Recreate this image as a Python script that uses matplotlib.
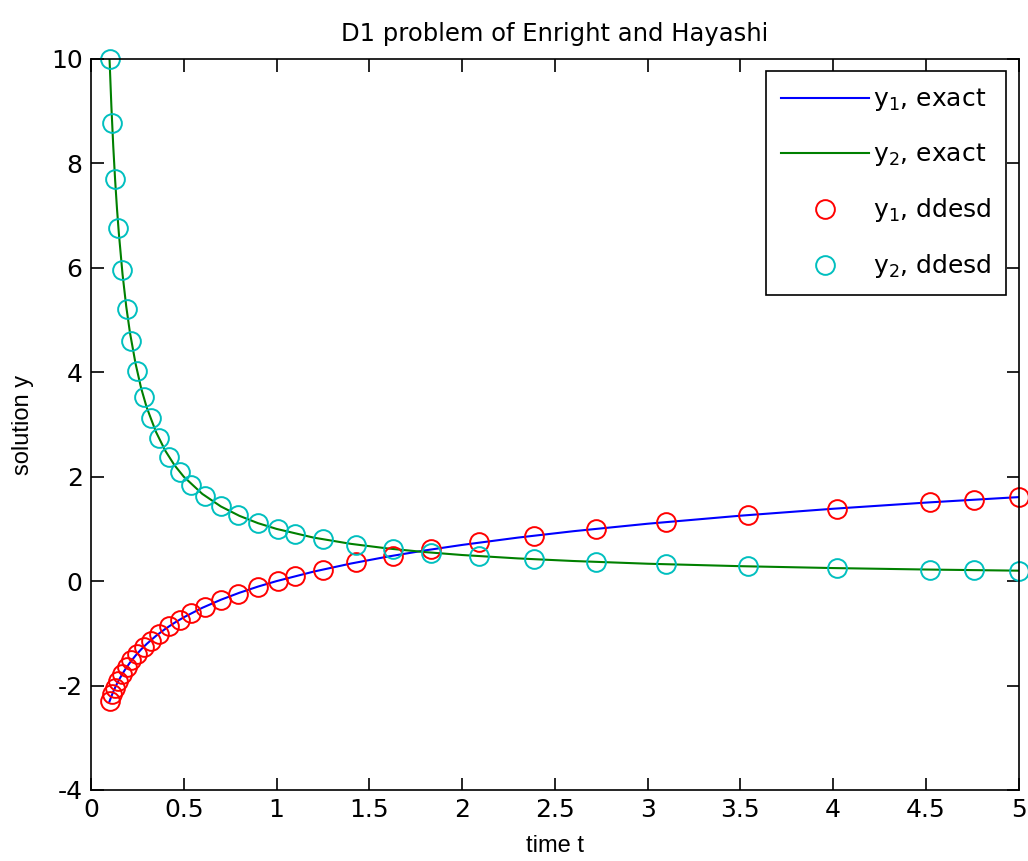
import matplotlib
matplotlib.use("Agg")
import matplotlib.pyplot as plt
from matplotlib import font_manager

plt.rcParams['font.family'] = ['DejaVu Sans']
plt.rcParams['mathtext.fontset'] = 'dejavusans'
plt.rcParams['axes.unicode_minus'] = False

names = {f.name for f in font_manager.fontManager.ttflist}
label_family = ['Liberation Sans Narrow'] if 'Liberation Sans Narrow' in names else ['Liberation Sans']

# exact solution curves
t_exact = [0.10, 0.11, 0.12, 0.13, 0.14, 0.15, 0.17, 0.19, 0.21, 0.24, 0.27, 0.30,
           0.35, 0.40, 0.45, 0.50, 0.60, 0.70, 0.80, 0.90, 1.00, 1.20, 1.40, 1.60,
           1.80, 2.00, 2.30, 2.60, 3.00, 3.50, 4.00, 4.50, 5.00]
y1_exact = [-2.303, -2.207, -2.120, -2.040, -1.966, -1.897, -1.772, -1.661, -1.561,
            -1.427, -1.309, -1.204, -1.050, -0.916, -0.799, -0.693, -0.511, -0.357,
            -0.223, -0.105, 0.000, 0.182, 0.336, 0.470, 0.588, 0.693, 0.833, 0.956,
            1.099, 1.253, 1.386, 1.504, 1.609]
y2_exact = [10.00, 9.09, 8.33, 7.69, 7.14, 6.67, 5.88, 5.26, 4.76, 4.17, 3.70, 3.33,
            2.86, 2.50, 2.22, 2.00, 1.67, 1.43, 1.25, 1.11, 1.00, 0.833, 0.714, 0.625,
            0.556, 0.500, 0.435, 0.385, 0.333, 0.286, 0.250, 0.222, 0.200]

# ddesd solution points
t_dde = [0.100, 0.114, 0.130, 0.148, 0.168, 0.192, 0.218, 0.248, 0.284, 0.321, 0.365,
         0.422, 0.478, 0.541, 0.615, 0.700, 0.790, 0.900, 1.010, 1.100, 1.250, 1.430,
         1.625, 1.835, 2.090, 2.390, 2.720, 3.100, 3.540, 4.020, 4.520, 4.760, 5.000]
y1_dde = [-2.30, -2.17, -2.04, -1.91, -1.78, -1.65, -1.52, -1.39, -1.26, -1.14, -1.01,
          -0.86, -0.74, -0.61, -0.49, -0.36, -0.24, -0.105, 0.01, 0.095, 0.22, 0.36,
          0.485, 0.61, 0.74, 0.87, 1.00, 1.13, 1.26, 1.39, 1.51, 1.56, 1.61]
y2_dde = [10.0, 8.77, 7.70, 6.76, 5.95, 5.21, 4.59, 4.03, 3.52, 3.12, 2.74, 2.37, 2.09,
          1.85, 1.63, 1.43, 1.27, 1.11, 0.99, 0.91, 0.80, 0.70, 0.615, 0.545, 0.48,
          0.42, 0.37, 0.32, 0.28, 0.25, 0.22, 0.21, 0.20]

xticks = [0, 0.5, 1, 1.5, 2, 2.5, 3, 3.5, 4, 4.5, 5]
xticklabels = ['0', '0.5', '1', '1.5', '2', '2.5', '3', '3.5', '4', '4.5', '5']
yticks = [-4, -2, 0, 2, 4, 6, 8, 10]

fig = plt.figure(figsize=(10.28, 8.61), dpi=100)
ax = fig.add_axes([0.0885, 0.0825, 0.9025, 0.8490])

ax.plot(t_exact, y1_exact, color=(0, 0, 1), lw=1.5, label=r'$\mathregular{y_1}$, exact')
ax.plot(t_exact, y2_exact, color=(0, 0.5, 0), lw=1.5, label=r'$\mathregular{y_2}$, exact')
ax.plot(t_dde, y1_dde, 'o', mfc='none', mec=(1, 0, 0), ms=13.5, mew=1.4,
        label=r'$\mathregular{y_1}$, ddesd', clip_on=False)
ax.plot(t_dde, y2_dde, 'o', mfc='none', mec=(0, 0.75, 0.75), ms=13.5, mew=1.4,
        label=r'$\mathregular{y_2}$, ddesd', clip_on=False)

ax.set_xlim(0, 5)
ax.set_ylim(-4, 10)
ax.set_xticks(xticks)
ax.set_xticklabels(xticklabels)
ax.set_yticks(yticks)
ax.tick_params(direction='in', length=9, width=1.2, top=True, right=True,
               labelsize=18, pad=6)
for s in ax.spines.values():
    s.set_linewidth(1.2)

ax.set_title('D1 problem of Enright and Hayashi', fontsize=17.5, pad=13)
ax.set_xlabel('time t', fontsize=17, labelpad=9, family=label_family)
ax.set_ylabel('solution y', fontsize=17, labelpad=12, family=label_family)

leg = ax.legend(loc='upper right', fontsize=18, handlelength=3.5, handletextpad=0.15,
                labelspacing=1.12, borderpad=0.6, borderaxespad=0.5, fancybox=False,
                framealpha=1, edgecolor='black')
leg.get_frame().set_linewidth(1.2)

fig.savefig('out.png', dpi=100)
